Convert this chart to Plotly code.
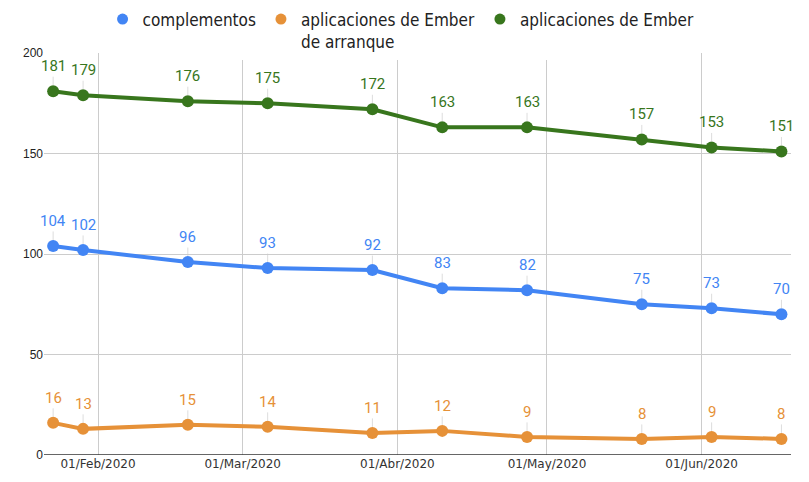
import plotly.graph_objects as go

dates = ["2020-01-23", "2020-01-29", "2020-02-19", "2020-03-06", "2020-03-27",
         "2020-04-10", "2020-04-27", "2020-05-20", "2020-06-03", "2020-06-17"]
complementos = [104, 102, 96, 93, 92, 83, 82, 75, 73, 70]
arranque = [16, 13, 15, 14, 11, 12, 9, 8, 9, 8]
apps = [181, 179, 176, 175, 172, 163, 163, 157, 153, 151]

series = [
    ("complementos", complementos, "#4285F4"),
    ("aplicaciones de Ember<br>de arranque", arranque, "#E69138"),
    ("aplicaciones de Ember", apps, "#38761D"),
]

tick_vals = ["2020-02-01", "2020-03-01", "2020-04-01", "2020-05-01", "2020-06-01"]
tick_text = ["01/Feb/2020", "01/Mar/2020", "01/Abr/2020", "01/May/2020", "01/Jun/2020"]

fig = go.Figure()
annotations = []
for name, vals, color in series:
    fig.add_trace(go.Scatter(x=dates, y=vals, mode="lines+markers",
                             line=dict(color=color, width=4),
                             marker=dict(color=color, size=12),
                             showlegend=False, hoverinfo="x+y"))
    fig.add_trace(go.Scatter(x=[None], y=[None], mode="markers", name=name,
                             marker=dict(color=color, size=11)))
    for d, v in zip(dates, vals):
        annotations.append(dict(x=d, y=v, xref="x", yref="y", text=str(v),
                                showarrow=True, arrowhead=0, arrowwidth=1,
                                arrowcolor="rgba(200,200,200,0.6)", ax=0, ay=-25,
                                standoff=6,
                                font=dict(family="Roboto", size=15, color=color)))

fig.update_layout(
    width=801, height=474,
    margin=dict(l=36, r=18, t=45, b=27, autoexpand=False),
    plot_bgcolor="white", paper_bgcolor="white",
    annotations=annotations,
    legend=dict(orientation="h", x=0.478, xanchor="center", yref="paper",
                y=1.128, yanchor="top",
                valign="top", font=dict(family="DejaVu Sans Condensed, Liberation Sans Narrow, Roboto", size=17, color="#222"),
                tracegroupgap=0),
    xaxis=dict(type="date", range=["2020-01-21 04:00", "2020-06-18 22:00"],
               tickvals=tick_vals, ticktext=tick_text, showgrid=True,
               gridcolor="#cccccc", gridwidth=1, ticks="", showline=False,
               zeroline=False, automargin=False,
               tickfont=dict(family="DejaVu Sans, Roboto", size=12, color="#333")),
    yaxis=dict(range=[0, 200], tickvals=[0, 50, 100, 150, 200], showgrid=True,
               gridcolor="#cccccc", gridwidth=1, zeroline=False, showline=False,
               ticks="", automargin=False,
               tickfont=dict(family="Liberation Sans, Arial", size=12, color="#222")),
    shapes=[dict(type="line", xref="paper", yref="y", x0=0, x1=1, y0=0, y1=0,
                 line=dict(color="#333", width=1.5), layer="above")],
)

fig.write_html("out.html")
